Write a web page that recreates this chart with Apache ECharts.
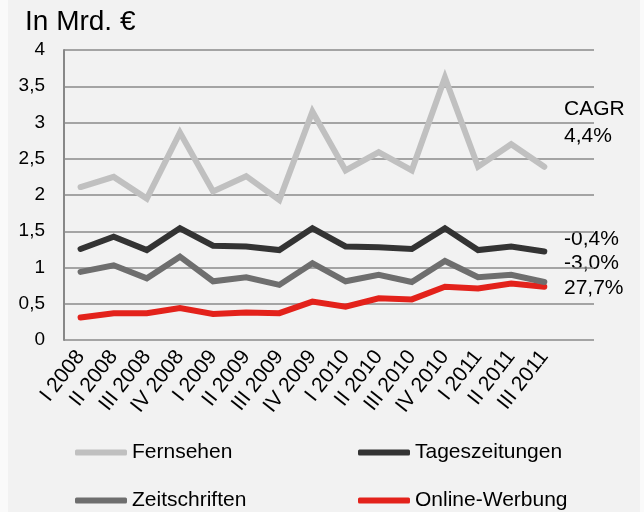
<!DOCTYPE html>
<html><head><meta charset="utf-8">
<script src="https://cdn.jsdelivr.net/npm/echarts@6/dist/echarts.min.js"></script>
<style>html,body{margin:0;padding:0;background:#fafafa;}#c{width:644px;height:512px;}</style>
</head><body><div id="c"></div>
<script>
const categories = ['I 2008','II 2008','III 2008','IV 2008','I 2009','II 2009','III 2009','IV 2009','I 2010','II 2010','III 2010','IV 2010','I 2011','II 2011','III 2011',''];
const fernsehen = [2.11, 2.25, 1.95, 2.86, 2.05, 2.26, 1.93, 3.15, 2.34, 2.59, 2.34, 3.62, 2.39, 2.70, 2.39];
const tageszeitungen = [1.255, 1.425, 1.24, 1.54, 1.30, 1.29, 1.24, 1.54, 1.29, 1.28, 1.255, 1.54, 1.24, 1.29, 1.22];
const zeitschriften = [0.94, 1.03, 0.85, 1.15, 0.81, 0.865, 0.76, 1.06, 0.81, 0.90, 0.80, 1.09, 0.865, 0.90, 0.80];
const onlineWerbung = [0.31, 0.37, 0.37, 0.44, 0.36, 0.38, 0.37, 0.53, 0.46, 0.575, 0.56, 0.735, 0.71, 0.78, 0.735];
const yTicks = [0, 0.5, 1, 1.5, 2, 2.5, 3, 3.5, 4];
const seriesNames = ['Fernsehen','Tageszeitungen','Zeitschriften','Online-Werbung'];
const colors = ['#c0c0c0','#333333','#6e6e6e','#e3221b'];
const annotations = [['CAGR', 108], ['4,4%', 135.5], ['-0,4%', 238.5], ['-3,0%', 262.5], ['27,7%', 287.5]];

const font = 'Liberation Sans, Arial, sans-serif';
const chart = echarts.init(document.getElementById('c'));
const dataSets = [fernsehen, tageszeitungen, zeitschriften, onlineWerbung];
const legendPos = [[75, 442], [358, 442], [75, 490], [358, 490]];
chart.setOption({
  backgroundColor: 'transparent',
  animation: false,
  grid: { left: 64, right: 50, top: 50, bottom: 172 },
  graphic: [
    { type: 'rect', z: -10, shape: { x: 8, y: 0, width: 632, height: 512 }, style: { fill: '#f2f2f2' } },
    { type: 'text', x: 25, y: 22, style: { text: 'In Mrd. €', font: '28px ' + font, fill: '#000', verticalAlign: 'middle' } }
  ].concat(annotations.map(a => ({ type: 'text', x: 564, y: a[1] + 1, style: { text: a[0], font: '21px ' + font, fill: '#000', verticalAlign: 'middle' } }))),
  legend: legendPos.map((p, i) => ({
    data: [seriesNames[i]], left: p[0], top: p[1], padding: 0, icon: 'roundRect', itemWidth: 52, itemHeight: 6, itemGap: 5,
    textStyle: { fontFamily: font, fontSize: 21, color: '#000', padding: [0,0,0,0] }
  })),
  xAxis: {
    type: 'category', data: categories, boundaryGap: true,
    axisLine: { show: false }, axisTick: { show: false },
    axisLabel: { rotate: 52, interval: 0, fontFamily: font, fontSize: 21, color: '#000', margin: 13 }
  },
  yAxis: {
    type: 'value', min: 0, max: 4, interval: 0.5,
    axisLine: { show: true, lineStyle: { color: '#888', width: 2 } }, axisTick: { show: false },
    splitLine: { lineStyle: { color: '#8a8a8a', width: 1.5 } },
    axisLabel: { fontFamily: font, fontSize: 19, color: '#000', margin: 19,
      formatter: v => String(v).replace('.', ',') }
  },
  series: dataSets.map((d, i) => ({
    name: seriesNames[i], type: 'line', data: d, symbol: 'none',
    lineStyle: { color: colors[i], width: 6, cap: 'round', join: 'miter' },
    itemStyle: { color: colors[i] }, z: 10 - i
  }))
});
</script></body></html>
